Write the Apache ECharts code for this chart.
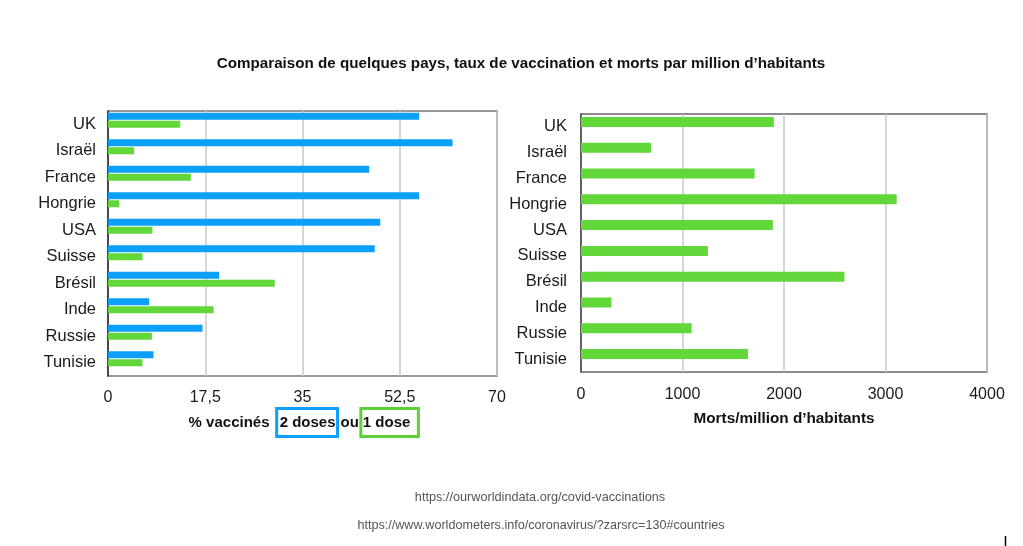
<!DOCTYPE html>
<html>
<head>
<meta charset="utf-8">
<script src="https://cdn.jsdelivr.net/npm/echarts@6/dist/echarts.min.js"></script>
<style>
  html, body { margin: 0; padding: 0; background: #fff; }
  #chart { width: 1023px; height: 546px; }
</style>
</head>
<body>
<div id="chart"></div>
<script>
  // pays (du haut vers le bas)
  var countries = ['UK', 'Israël', 'France', 'Hongrie', 'USA', 'Suisse', 'Brésil', 'Inde', 'Russie', 'Tunisie']
  // % vaccinés
  var twoDoses = [56, 62, 47, 56, 49, 48, 20, 7.4, 17, 8.2]
  var oneDose = [13, 4.7, 14.9, 2, 8, 6.2, 30, 19, 7.9, 6.2]
  // morts par million d'habitants
  var deaths = [1900, 690, 1710, 3110, 1890, 1250, 2595, 300, 1090, 1645]
  var vaccTicks = [0, 17.5, 35, 52.5, 70]
  var deathTicks = [0, 1000, 2000, 3000, 4000]

  var BLUE = '#0ca0fa'
  var GREEN = '#62d73a'
  var FONT = '"Liberation Sans", Arial, sans-serif'

  var chart = echarts.init(document.getElementById('chart'))

  var catAxis = function (idx, lineColor, margin) {
    return {
      type: 'category',
      gridIndex: idx,
      data: countries,
      inverse: true,
      axisTick: {show: false},
      axisLine: {lineStyle: {color: lineColor, width: 1.5}},
      axisLabel: {color: '#1a1a1a', fontSize: 16.5, fontFamily: FONT, margin: margin, padding: [4, 0, 0, 0]}
    }
  }

  chart.setOption({
    animation: false,
    textStyle: {fontFamily: FONT},
    title: [
      {
        text: 'Comparaison de quelques pays, taux de vaccination et morts par million d\u2019habitants',
        left: 516, top: 51, textAlign: 'center',
        textStyle: {fontSize: 15.2, fontWeight: 'bold', color: '#111', fontFamily: FONT}
      },
      {
        text: 'https://ourworldindata.org/covid-vaccinations',
        left: 535, top: 486, textAlign: 'center',
        textStyle: {fontSize: 12.7, fontWeight: 'normal', color: '#555', fontFamily: FONT}
      },
      {
        text: 'https://www.worldometers.info/coronavirus/?zarsrc=130#countries',
        left: 536, top: 514, textAlign: 'center',
        textStyle: {fontSize: 12.6, fontWeight: 'normal', color: '#555', fontFamily: FONT}
      }
    ],
    grid: [
      {left: 108, top: 111, width: 389, height: 265, show: true, borderColor: '#777', borderWidth: 1.5},
      {left: 581, top: 114, width: 406, height: 258, show: true, borderColor: '#666', borderWidth: 1.5}
    ],
    xAxis: [
      {
        type: 'value', gridIndex: 0,
        min: vaccTicks[0], max: vaccTicks[vaccTicks.length - 1], interval: vaccTicks[1],
        axisLine: {show: false},
        axisTick: {show: false},
        axisLabel: {
          color: '#1a1a1a', fontSize: 16, margin: 14,
          formatter: function (v) { return String(v).replace('.', ',') }
        },
        splitLine: {lineStyle: {color: '#c8c8c8', width: 1.5}},
        name: '{t|% vaccinés }{a|2 doses}{o|ou}{b|1 dose}',
        nameLocation: 'middle',
        nameGap: 30,
        nameTextStyle: {
          rich: {
            t: {fontSize: 15, fontWeight: 'bold', color: '#111', padding: [0, 3, 0, 2]},
            o: {fontSize: 15, fontWeight: 'bold', color: '#111', padding: [0, 2, 0, 3]},
            a: {fontSize: 15, fontWeight: 'bold', color: '#111', borderColor: BLUE, borderWidth: 3, padding: [7, 2, 6, 3]},
            b: {fontSize: 15, fontWeight: 'bold', color: '#111', borderColor: '#5cd135', borderWidth: 3, padding: [7, 8, 6, 2]}
          }
        }
      },
      {
        type: 'value', gridIndex: 1,
        min: deathTicks[0], max: deathTicks[deathTicks.length - 1], interval: deathTicks[1],
        axisLine: {show: false},
        axisTick: {show: false},
        axisLabel: {
          color: '#1a1a1a', fontSize: 16, margin: 15,
          formatter: function (v) { return String(v) }
        },
        splitLine: {lineStyle: {color: '#c8c8c8', width: 1.5}},
        name: 'Morts/million d\u2019habitants',
        nameLocation: 'middle',
        nameGap: 39,
        nameTextStyle: {fontSize: 15.3, fontWeight: 'bold', color: '#111'}
      }
    ],
    yAxis: [
      catAxis(0, '#222', 12),
      catAxis(1, '#444', 14)
    ],
    series: [
      {
        name: '2 doses', type: 'bar', xAxisIndex: 0, yAxisIndex: 0,
        data: twoDoses, barWidth: 7, barGap: '14%',
        itemStyle: {color: BLUE}
      },
      {
        name: '1 dose', type: 'bar', xAxisIndex: 0, yAxisIndex: 0,
        data: oneDose, barWidth: 7, barGap: '14%',
        itemStyle: {color: GREEN}
      },
      {
        // emplacement vide pour décaler les barres vers le haut
        name: 'vide', type: 'bar', xAxisIndex: 0, yAxisIndex: 0,
        data: countries.map(function () { return null }), barWidth: 7, barGap: '14%',
        silent: true
      },
      {
        name: 'Morts', type: 'bar', xAxisIndex: 1, yAxisIndex: 1,
        data: deaths, barWidth: 10, barGap: 0,
        itemStyle: {color: GREEN}
      },
      {
        name: 'vide2', type: 'bar', xAxisIndex: 1, yAxisIndex: 1,
        data: countries.map(function () { return null }), barWidth: 10, barGap: 0,
        silent: true
      }
    ],
    graphic: [
      {
        type: 'line',
        shape: {x1: 1005.5, y1: 536, x2: 1005.5, y2: 546},
        style: {stroke: '#000', lineWidth: 1.5}
      }
    ]
  })
</script>
</body>
</html>
